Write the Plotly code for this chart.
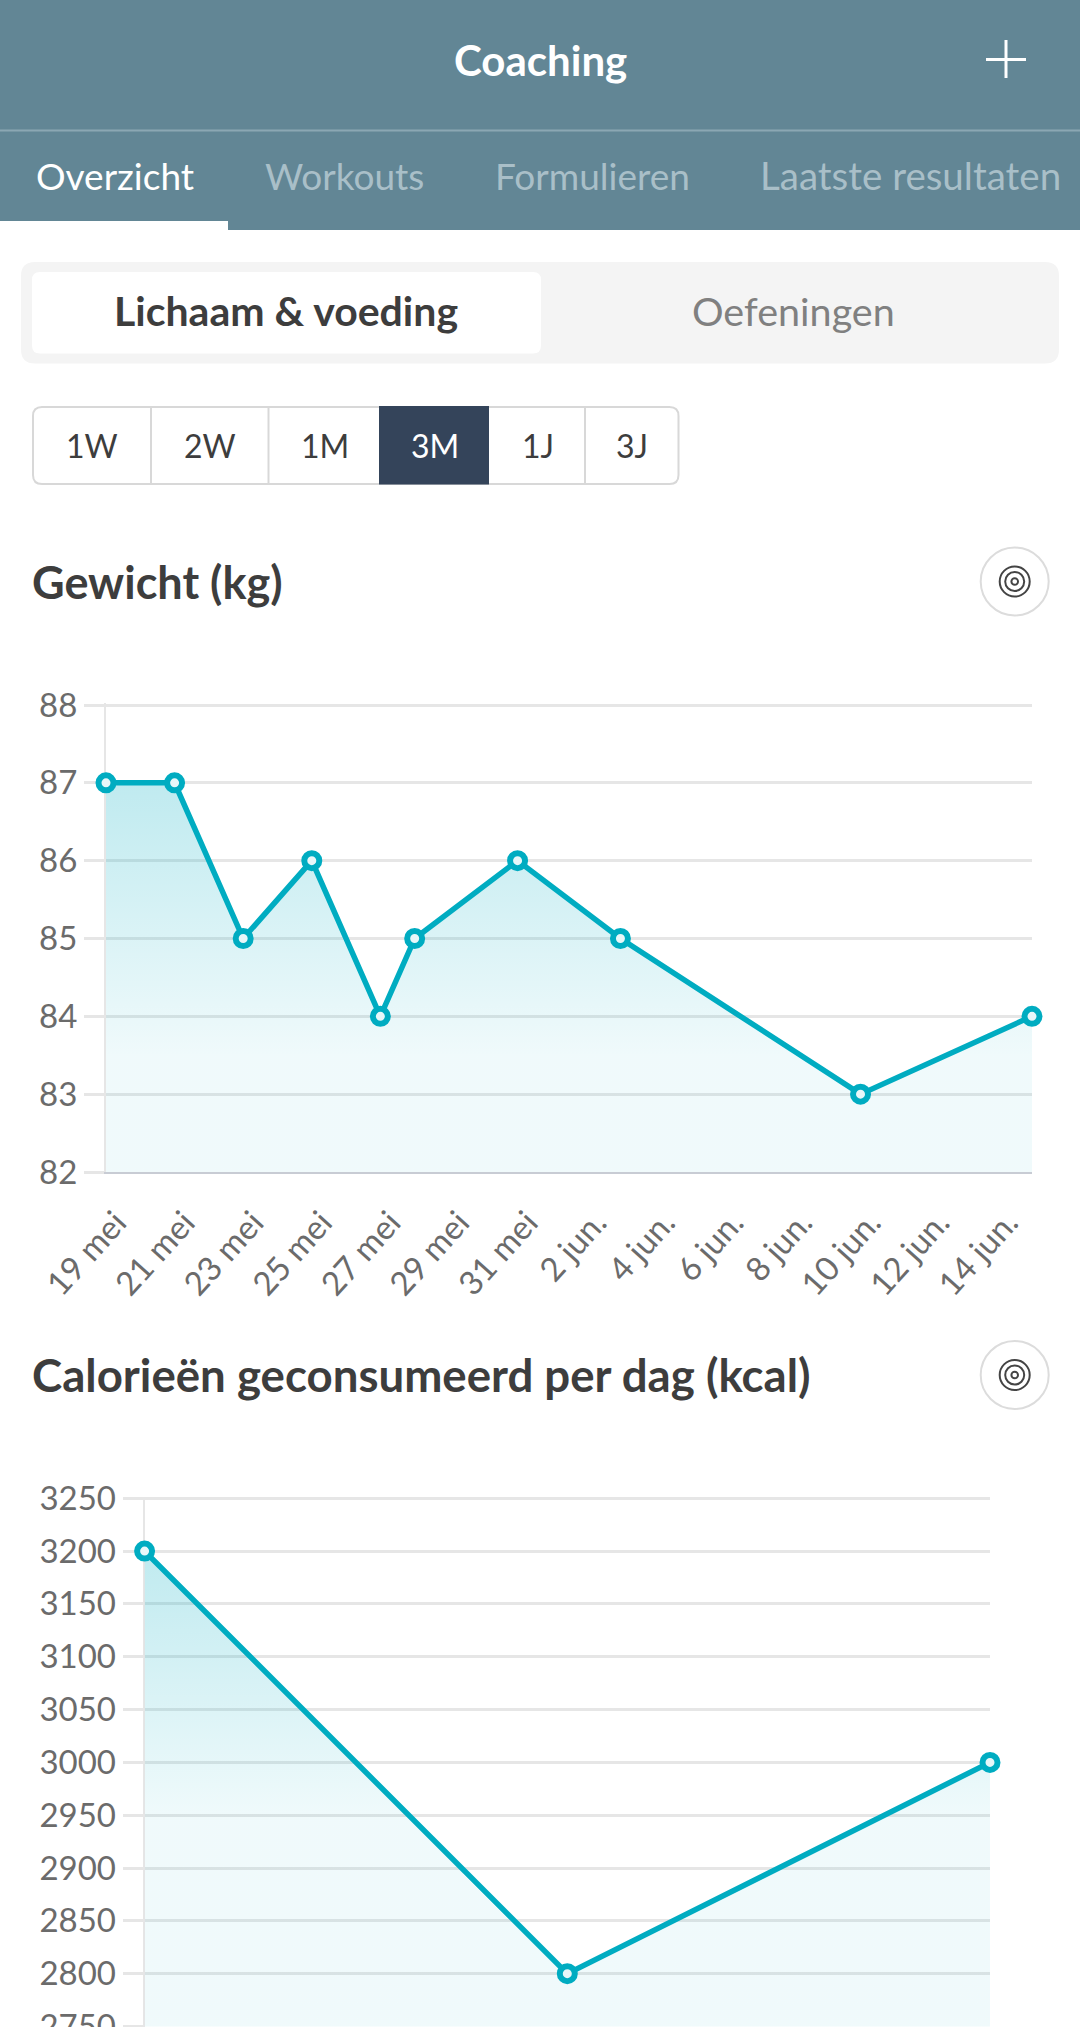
import plotly.graph_objects as go

W = 1080
H = 2027
FONT = "Lato"

# gewicht chart
weight_dates = ["2021-05-19", "2021-05-21", "2021-05-23", "2021-05-25", "2021-05-27", "2021-05-28",
                "2021-05-31", "2021-06-03", "2021-06-10", "2021-06-15"]
weight_values = [87, 87, 85, 86, 84, 85, 86, 85, 83, 84]
weight_ticks = ["2021-05-19", "2021-05-21", "2021-05-23", "2021-05-25", "2021-05-27", "2021-05-29", "2021-05-31",
                "2021-06-02", "2021-06-04", "2021-06-06", "2021-06-08", "2021-06-10", "2021-06-12", "2021-06-14"]
weight_labels = ["19 mei", "21 mei", "23 mei", "25 mei", "27 mei", "29 mei", "31 mei",
                 "2 jun.", "4 jun.", "6 jun.", "8 jun.", "10 jun.", "12 jun.", "14 jun."]
weight_yticks = [82, 83, 84, 85, 86, 87, 88]

# calorie chart, the x labels are below the fold
kcal_days = [0, 1, 2]
kcal_values = [3200, 2800, 3000]
kcal_yticks = [2750, 2800, 2850, 2900, 2950, 3000, 3050, 3100, 3150, 3200, 3250]

tabs = ["Overzicht", "Workouts", "Formulieren", "Laatste resultaten"]
tab_sizes = [37, 37, 37, 38.5]
ranges = ["1W", "2W", "1M", "3M", "1J", "3J"]

HEADER = "#628695"
TEAL = "#00acc1"
GRID = "#e6e6e6"
DARK = "#3d3d3d"
TICK = "#6b6b6b"


def px(x):
    return x / W


def py(y):
    return 1 - y / H


def rounded(x0, y0, x1, y1, r):
    a, b, c, d = px(x0), py(y0), px(x1), py(y1)
    rx, ry = r / W, r / H
    return (f"M {a + rx} {b} L {c - rx} {b} Q {c} {b} {c} {b - ry} L {c} {d + ry} Q {c} {d} {c - rx} {d} "
            f"L {a + rx} {d} Q {a} {d} {a} {d + ry} L {a} {b - ry} Q {a} {b} {a + rx} {b} Z")


def rect(x0, y0, x1, y1, color):
    return dict(type="rect", xref="paper", yref="paper", x0=px(x0), x1=px(x1), y0=py(y0), y1=py(y1),
                fillcolor=color, line_width=0, layer="below")


def line(x0, y0, x1, y1, color, width):
    return dict(type="line", xref="paper", yref="paper", x0=px(x0), x1=px(x1), y0=py(y0), y1=py(y1),
                line=dict(color=color, width=width), layer="below")


def path(d, fill, stroke=None, width=0):
    return dict(type="path", xref="paper", yref="paper", path=d, fillcolor=fill,
                line=dict(color=stroke or fill, width=width), layer="below")


def circle(cx, cy, r, stroke, width):
    return dict(type="circle", xref="paper", yref="paper", x0=px(cx - r), x1=px(cx + r), y0=py(cy + r), y1=py(cy - r),
                line=dict(color=stroke, width=width), layer="below")


def label(text, x, y, size, color, bold=False, anchor="center"):
    if bold:
        text = f"<b>{text}</b>"
    return dict(text=text, x=px(x), y=py(y), xref="paper", yref="paper", showarrow=False,
                xanchor=anchor, yanchor="middle", font=dict(family=FONT, size=size, color=color))


def target(cx, cy):
    return [circle(cx, cy, 34, "#dcdcdc", 2), circle(cx, cy, 15, "#444444", 2),
            circle(cx, cy, 9.5, "#444444", 2), circle(cx, cy, 3.3, "#444444", 2)]


shapes = [
    rect(0, 0, W, 230, HEADER),
    line(0, 130.5, W, 130.5, "#8ba7b3", 2),
    rect(0, 221, 228, 230, "white"),
    line(1006, 40, 1006, 78, "white", 3),
    line(986, 59.5, 1026, 59.5, "white", 3),
    path(rounded(21, 262, 1059, 363.5, 14), "#f4f4f4"),
    path(rounded(32, 272, 541, 353.5, 8), "white"),
    path(rounded(33, 407, 678.5, 484, 9), "white", "#d8d8d8", 2),
    rect(379, 406, 489, 484.5, "#34445a"),
]
for x in [151, 268.5, 585]:
    shapes.append(line(x, 407, x, 484, "#d8d8d8", 2))
shapes += target(1014.7, 581.5)
shapes += target(1014.7, 1375)

annotations = [label("Coaching", 540, 60, 42, "white", bold=True)]
for text, x, size, color in zip(tabs, [115, 344, 592, 910], tab_sizes, ["white", "#a9bfc8", "#a9bfc8", "#a9bfc8"]):
    annotations.append(label(text, x, 175, size, color))
annotations.append(label("Lichaam &amp; voeding", 286, 311, 41, DARK, bold=True))
annotations.append(label("Oefeningen", 793, 311, 39.5, "#808080"))
for text, x in zip(ranges, [91.5, 210, 325, 435, 538, 631.5]):
    annotations.append(label(text, x, 446, 32, "white" if text == "3M" else DARK))
annotations.append(label("Gewicht (kg)", 30, 582, 45, DARK, bold=True, anchor="left"))
annotations.append(label("Calorieën geconsumeerd per dag (kcal)", 30, 1374, 45.6, DARK, bold=True, anchor="left"))


def area_trace(x, y, xaxis, yaxis, start, stop, flat):
    return go.Scatter(
        x=x, y=y, xaxis=xaxis, yaxis=yaxis, mode="lines+markers", cliponaxis=False,
        line=dict(color=TEAL, width=5.5),
        marker=dict(size=15, color="#e8f7f9", line=dict(color=TEAL, width=6)),
        fill="tozeroy",
        fillgradient=dict(type="vertical", start=start, stop=stop,
                          colorscale=[[0, "rgba(0,172,193,0.06)"], [flat, "rgba(0,172,193,0.06)"],
                                      [1, "rgba(0,172,193,0.25)"]]),
    )


fig = go.Figure()
fig.add_trace(area_trace(weight_dates, weight_values, "x", "y", 82, 87, 0.3))
fig.add_trace(area_trace(kcal_days, kcal_values, "x2", "y2", 2750, 3200, 0.44))

y_style = dict(showgrid=True, gridcolor=GRID, gridwidth=2.5, ticks="outside", ticklen=20, tickwidth=2.5,
               tickcolor=GRID, showline=True, linecolor=GRID, linewidth=2, zeroline=False, automargin=False,
               layer="below traces", ticklabeloverflow="allow",
               tickfont=dict(family=FONT, size=33, color=TICK))

# y ranges run a hair over the top tick, plotly drops a grid line sitting right on the edge
fig.update_layout(
    width=W, height=H, autosize=False, showlegend=False, margin=dict(l=0, r=0, t=0, b=0),
    paper_bgcolor="white", plot_bgcolor="white", shapes=shapes, annotations=annotations,
    xaxis=dict(domain=[px(106), px(1032)], anchor="y", type="date", range=["2021-05-19", "2021-06-15"],
               tickmode="array", tickvals=weight_ticks, ticktext=weight_labels, tickangle=-48, automargin=False,
               ticklabelshift=10, ticklabelstandoff=16, showgrid=False, showline=True, linecolor="#c8ccd4",
               linewidth=2, layer="below traces", tickfont=dict(family=FONT, size=33, color=TICK)),
    yaxis=dict(domain=[py(1172), py(703.44)], anchor="x", range=[82, 88.02], tickmode="array", tickvals=weight_yticks,
               **y_style),
    xaxis2=dict(domain=[px(144.6), px(990)], anchor="y2", range=[0, 2], showticklabels=False, showgrid=False,
                zeroline=False, automargin=False),
    yaxis2=dict(domain=[py(2026.5), py(1496.7)], anchor="x2", range=[2750, 3251.5], tickmode="array",
                tickvals=kcal_yticks, **y_style),
)

# body margin off so the figure sits flush with the window
fig.write_html("out.html", config={"displayModeBar": False}, post_script="document.body.style.margin = '0';")
